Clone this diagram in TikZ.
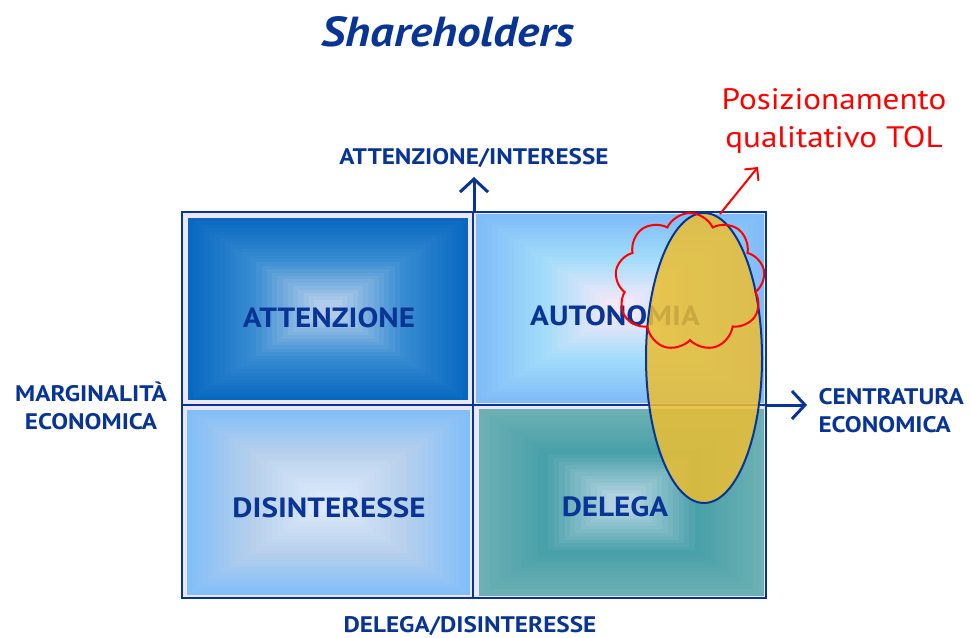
\documentclass[tikz,border=0pt]{standalone}
\usepackage{fontspec}
\setmainfont{PT Sans}[FakeStretch=1.12]
\usetikzlibrary{arrows.meta,shapes.symbols,shapes.geometric}
\definecolor{navy}{RGB}{8,52,150}
\definecolor{band}{RGB}{236,230,250}
\definecolor{aOut}{RGB}{8,104,192}\definecolor{aMid}{RGB}{56,140,210}\definecolor{aIn}{RGB}{176,204,234}
\definecolor{bOut}{RGB}{128,188,248}\definecolor{bMid}{RGB}{162,220,250}\definecolor{bIn}{RGB}{242,232,248}
\definecolor{cOut}{RGB}{130,190,248}\definecolor{cMid}{RGB}{184,208,236}\definecolor{cIn}{RGB}{218,232,250}
\definecolor{dOut}{RGB}{108,176,180}\definecolor{dMid}{RGB}{72,160,168}\definecolor{dIn}{RGB}{178,210,226}
\definecolor{ellfill}{RGB}{236,190,50}
\newcommand\qshade[7]{%
  \foreach \i in {0,...,24}{%
    \pgfmathsetmacro\dx{\i/24*(#3-#1)/2*0.9}%
    \pgfmathsetmacro\dy{\i/24*(#4-#2)/2*0.9}%
    \ifnum\i<13
      \pgfmathtruncatemacro\pp{\i*100/12}\colorlet{qc}{#6!\pp!#5}%
    \else
      \pgfmathtruncatemacro\pp{(\i-12)*100/12}\colorlet{qc}{#7!\pp!#6}%
    \fi
    \fill[qc] ({#1+\dx},{#2+\dy}) rectangle ({#3-\dx},{#4-\dy});
  }%
}
\tikzset{
  qlabel/.style={font=\bfseries\fontsize{27.8}{30}\selectfont, text=navy},
  axlabel/.style={font=\bfseries\fontsize{22.5}{28}\selectfont, text=navy, align=center},
  axarrow/.style={draw=navy, line width=3pt, -{Straight Barb[length=13pt,width=28pt,line width=3pt]}},
  qframe/.style={draw=navy, line width=2.5pt},
}
\begin{document}
\begin{tikzpicture}[x=1pt,y=-1pt]
\useasboundingbox (0,0) rectangle (971,637);
% light bands
\fill[band] (182,212) rectangle (766,598);
% quadrant shadings
\qshade{188}{218}{468}{400}{aOut}{aMid}{aIn}
\qshade{476}{214}{764}{403}{bOut}{bMid}{bIn}
\qshade{187}{410}{470}{595}{cOut}{cMid}{cIn}
\qshade{479}{409}{764}{596}{dOut}{dMid}{dIn}
% frames
\draw[qframe] (182,212) rectangle (473,405);
\draw[qframe] (473,212) rectangle (766,405);
\draw[qframe] (182,405) rectangle (473,598);
\draw[qframe] (473,405) rectangle (766,598);
% axes
\coordinate (vtop) at (474,212);
\coordinate (vend) at (474,177);
\coordinate (hleft) at (766,405);
\coordinate (hend) at (807,405);
\draw[axarrow] (vtop) -- (vend);
\draw[axarrow] (hleft) -- (hend);
% quadrant labels
\node[qlabel] (attn) at (329,318) {ATTENZIONE};
\node[qlabel] (auto) at (615,316) {AUTONOMIA};
\node[qlabel] (disi) at (329,508) {DISINTERESSE};
\node[qlabel] (dele) at (615,507) {DELEGA};
% axis labels
\node[axlabel] (ytop) at (474,158) {ATTENZIONE/INTERESSE};
\node[axlabel] (ybot) at (470,626) {DELEGA/DISINTERESSE};
\node[axlabel] (xleft) at (91,406) {MARGINALITÀ\\ECONOMICA};
\node[axlabel, align=left, anchor=west] (xright) at (815,411) {CENTRATURA\\ECONOMICA};
% title
\node[font=\bfseries\itshape\fontsize{42}{44}\selectfont, text=navy] (title) at (448,32) {Shareholders};
% ellipse
\node[ellipse, draw=navy, line width=2pt, fill=ellfill, fill opacity=0.85,
      minimum width=116, minimum height=290, inner sep=0pt] (ell) at (704,358) {};
% cloud
\node[cloud, draw=red, line width=2pt, cloud puffs=9, cloud puff arc=130, aspect=1.1,
      minimum width=150, minimum height=138, inner sep=0pt] (cl) at (690,282) {};
\coordinate (rstart) at (720,214);
\coordinate (rend) at (758,167);
\draw[draw=red, line width=2pt, -{Straight Barb[length=9pt,width=18pt,line width=2pt]}] (rstart) -- (rend);
\node[font=\fontsize{29.6}{38}\selectfont, text=red, align=center] (pos) at (834,121) {Posizionamento\\qualitativo TOL};
\end{tikzpicture}
\end{document}
